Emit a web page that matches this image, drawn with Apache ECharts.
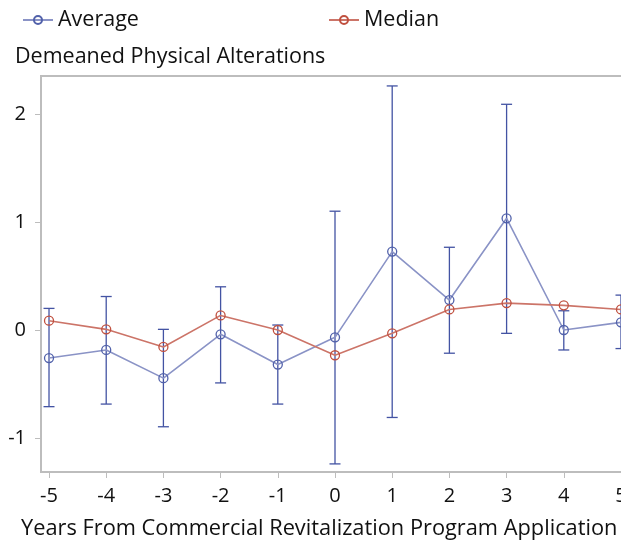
<!DOCTYPE html>
<html>
<head>
<meta charset="utf-8">
<script src="https://cdn.jsdelivr.net/npm/echarts@6/dist/echarts.min.js"></script>
<style>
  html, body { margin: 0; padding: 0; background: #fff; }
  #chart { width: 621px; height: 546px; }
</style>
</head>
<body>
<div id="chart"></div>
<script>
// Years relative to the program application
const years = [-5, -4, -3, -2, -1, 0, 1, 2, 3, 4, 5];
// Demeaned physical alterations: average with its interval, and median
const averageValues = [-0.26, -0.185, -0.446, -0.04, -0.32, -0.068, 0.726, 0.277, 1.034, 0.0, 0.071];
const averageLower  = [-0.71, -0.686, -0.896, -0.49, -0.686, -1.24, -0.81, -0.215, -0.031, -0.185, -0.172];
const averageUpper  = [0.20, 0.31, 0.006, 0.40, 0.046, 1.10, 2.26, 0.766, 2.09, 0.178, 0.323];
const medianValues  = [0.086, 0.006, -0.157, 0.135, 0.0, -0.234, -0.031, 0.19, 0.249, 0.228, 0.19];
const xTickValues = [-5, -4, -3, -2, -1, 0, 1, 2, 3, 4, 5];
const yTickValues = [-1, 0, 1, 2];

const FONT = '"Open Sans", sans-serif';
const AVG_LINE = '#8a93c6';
const AVG_MARK = '#5161aa';
const BAR_COLOR = '#4353a3';
const MED_LINE = '#cc7468';
const MED_MARK = '#c0503f';
const AXIS_GRAY = '#bdbdbd';

const chart = echarts.init(document.getElementById('chart'), null, { renderer: 'canvas' });

const errorData = years.map((x, i) => [x, averageLower[i], averageUpper[i]]);

const legendText = { fontFamily: FONT, fontSize: 21.5, color: '#111' };

const option = {
  backgroundColor: '#ffffff',
  animation: false,
  textStyle: { fontFamily: FONT },
  legend: [
    { data: ['Average'], left: 17, top: 4, itemWidth: 30, itemHeight: 10, itemGap: 8, textStyle: legendText },
    { data: ['Median'], left: 323, top: 4, itemWidth: 30, itemHeight: 10, itemGap: 8, textStyle: legendText }
  ],
  title: {
    text: 'Demeaned Physical Alterations',
    left: 10, top: 41,
    textStyle: { fontFamily: FONT, fontSize: 21.5, fontWeight: 'normal', color: '#111' }
  },
  grid: {
    left: 41, top: 76, width: 588, height: 396,
    outerBoundsMode: 'none',
    containLabel: false,
    show: true, borderColor: AXIS_GRAY, borderWidth: 2, backgroundColor: 'transparent'
  },
  xAxis: {
    type: 'value', min: -5.14, max: 5.14,
    splitLine: { show: false },
    axisLine: { show: true, onZero: false, lineStyle: { color: AXIS_GRAY, width: 2 } },
    axisTick: { show: true, length: 6, customValues: xTickValues, lineStyle: { color: AXIS_GRAY, width: 1 } },
    axisLabel: {
      customValues: xTickValues, margin: 14, fontFamily: FONT, fontSize: 20, color: '#111',
      hideOverlap: false, showMaxLabel: true, showMinLabel: true,
      formatter: v => String(v)
    }
  },
  yAxis: {
    type: 'value', min: -1.315, max: 2.352,
    splitLine: { show: false },
    axisLine: { show: true, onZero: false, lineStyle: { color: AXIS_GRAY, width: 2 } },
    axisTick: { show: true, length: 6, customValues: yTickValues, lineStyle: { color: AXIS_GRAY, width: 1 } },
    axisLabel: {
      customValues: yTickValues, margin: 15, fontFamily: FONT, fontSize: 20, color: '#111',
      formatter: v => String(v)
    }
  },
  graphic: [
    {
      type: 'text', left: 21, top: 518,
      style: {
        text: 'Years From Commercial Revitalization Program Application',
        font: '21.8px ' + FONT, fill: '#111'
      }
    }
  ],
  series: [
    {
      name: 'Average interval',
      type: 'custom',
      z: 3,
      clip: false,
      data: errorData,
      renderItem: function (params, api) {
        const x = api.value(0);
        const lo = api.coord([x, api.value(1)]);
        const hi = api.coord([x, api.value(2)]);
        const half = 5.5;
        const style = { stroke: BAR_COLOR, lineWidth: 1.3, fill: null };
        return {
          type: 'group',
          children: [
            { type: 'line', shape: { x1: lo[0], y1: lo[1], x2: hi[0], y2: hi[1] }, style },
            { type: 'line', shape: { x1: hi[0] - half, y1: hi[1], x2: hi[0] + half, y2: hi[1] }, style },
            { type: 'line', shape: { x1: lo[0] - half, y1: lo[1], x2: lo[0] + half, y2: lo[1] }, style }
          ]
        };
      }
    },
    {
      name: 'Average',
      type: 'line',
      z: 4,
      data: years.map((x, i) => [x, averageValues[i]]),
      symbol: 'circle', symbolSize: 9,
      lineStyle: { color: AVG_LINE, width: 1.6 },
      itemStyle: { color: 'rgba(255,255,255,0)', borderColor: AVG_MARK, borderWidth: 1.3 }
    },
    {
      name: 'Median',
      type: 'line',
      z: 5,
      data: years.map((x, i) => [x, medianValues[i]]),
      symbol: 'circle', symbolSize: 9,
      lineStyle: { color: MED_LINE, width: 1.6 },
      itemStyle: { color: 'rgba(255,255,255,0)', borderColor: MED_MARK, borderWidth: 1.3 }
    }
  ]
};

chart.setOption(option);
</script>
</body>
</html>
